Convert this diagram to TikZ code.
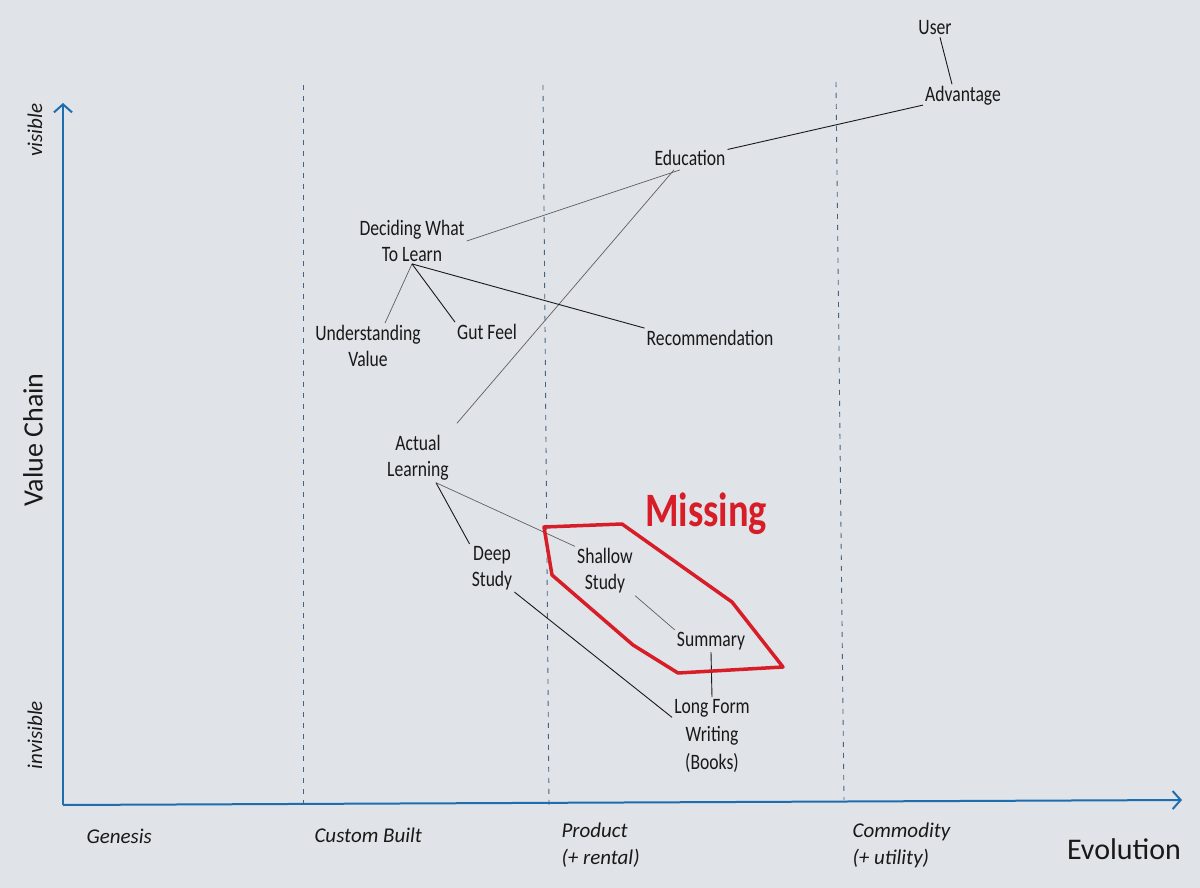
\documentclass[tikz,border=0pt]{standalone}
\usepackage{fontspec}
\setmainfont{Carlito}
\newfontfamily\hand[FakeStretch=0.8]{Carlito}
\usetikzlibrary{arrows.meta,calc}
\definecolor{paper}{RGB}{224,227,231}
\definecolor{axisblue}{RGB}{30,110,175}
\definecolor{dashblue}{RGB}{70,100,130}
\definecolor{mred}{RGB}{215,30,40}
\definecolor{ink}{RGB}{25,25,25}
\begin{document}
\begin{tikzpicture}[x=1pt,y=-1pt,
 comp/.style={font=\hand\fontsize{22}{26}\selectfont, align=center, inner sep=2pt, text=ink},
 link/.style={draw=ink, line width=0.9pt},
 faint/.style={draw=gray!75!black, line width=0.7pt},
 evodash/.style={draw=dashblue, dash pattern=on 5pt off 6pt, line width=0.9pt},
 axis/.style={draw=axisblue, line width=2pt, -{Straight Barb[length=8pt,width=18pt]}},
 axlab/.style={font=\itshape\fontsize{21}{27}\selectfont, align=left, anchor=west, text=ink}]
\useasboundingbox (0,0) rectangle (1200,888);
\fill[paper] (0,0) rectangle (1200,888);

% evolution stage dividers
\draw[evodash] (303,85) -- (303,805);
\draw[evodash] (543,85) -- (549,805);
\draw[evodash] (836,82) -- (844,800);

% axes
\coordinate (origin) at (63,805);
\coordinate (ytop) at (63,103);
\coordinate (xend) at (1182,800);
\draw[axis] (origin) -- (ytop);
\draw[axis] (origin) -- (xend);

% axis labels
\node[font=\itshape\fontsize{21}{27}\selectfont, rotate=90, text=ink] (vis) at (35,130) {visible};
\node[font=\itshape\fontsize{21}{27}\selectfont, rotate=90, text=ink] (invis) at (35,735) {invisible};
\node[font=\fontsize{28}{34}\selectfont, rotate=90, text=ink] (vchain) at (33,440) {Value Chain};
\node[axlab] (gen) at (83,836) {Genesis};
\node[axlab] (cust) at (311,835) {Custom Built};
\node[axlab] (prod) at (558,845) {Product\\(+ rental)};
\node[axlab] (comm) at (849,845) {Commodity\\(+ utility)};
\node[font=\fontsize{30}{36}\selectfont, text=ink] (evo) at (1124,849) {Evolution};

% components
\node[comp] (user) at (935,28) {User};
\node[comp] (adv) at (963,96) {Advantage};
\node[comp] (edu) at (690,158) {Education};
\node[comp] (decide) at (412,241) {Deciding What\\To Learn};
\node[comp] (under) at (368,346) {Understanding\\Value};
\node[comp] (gut) at (487,332) {Gut Feel};
\node[comp] (reco) at (710,338) {Recommendation};
\node[comp] (actual) at (418,458) {Actual\\Learning};
\node[comp] (deep) at (492,568) {Deep\\Study};
\node[comp] (shallow) at (605,571) {Shallow\\Study};
\node[comp] (summary) at (711,641) {Summary};
\node[comp, font=\hand\fontsize{22}{28}\selectfont] (long) at (712,736) {Long Form\\Writing\\(Books)};

% connectors
\draw[link] ($(user.south)+(5,0)$) -- ($(adv.north)+(-11,0)$);
\draw[link] (edu) -- (adv);
\draw[faint] ($(edu.south)+(-10,2)$) -- (decide.east);
\draw[faint] ($(edu.south)+(-16,2)$) -- ($(actual.north east)+(6,-10)$);
\draw[faint] (decide.south) -- ($(under.north)+(17,0)$);
\draw[link] (decide.south) -- (gut.north west);
\draw[link] (decide.south) -- (reco.north west);
\draw[link] ($(actual.south)+(18,0)$) -- (deep.north west);
\draw[faint] ($(actual.south)+(18,0)$) -- (shallow.north west);
\draw[link] (deep.south east) -- (long.155);
\draw[faint] (shallow.south east) -- (summary.north west);
\draw[link] (summary.south) -- (long.north);

% missing region
\draw[mred, line width=3.5pt, line join=round]
  (544,527) -- (622,524) -- (732,602) -- (783,667) -- (678,673) -- (633,645) -- (552,575) -- cycle;
\node[font=\hand\bfseries\fontsize{48}{52}\selectfont, text=mred] (missing) at (706,514) {Missing};
\end{tikzpicture}
\end{document}
